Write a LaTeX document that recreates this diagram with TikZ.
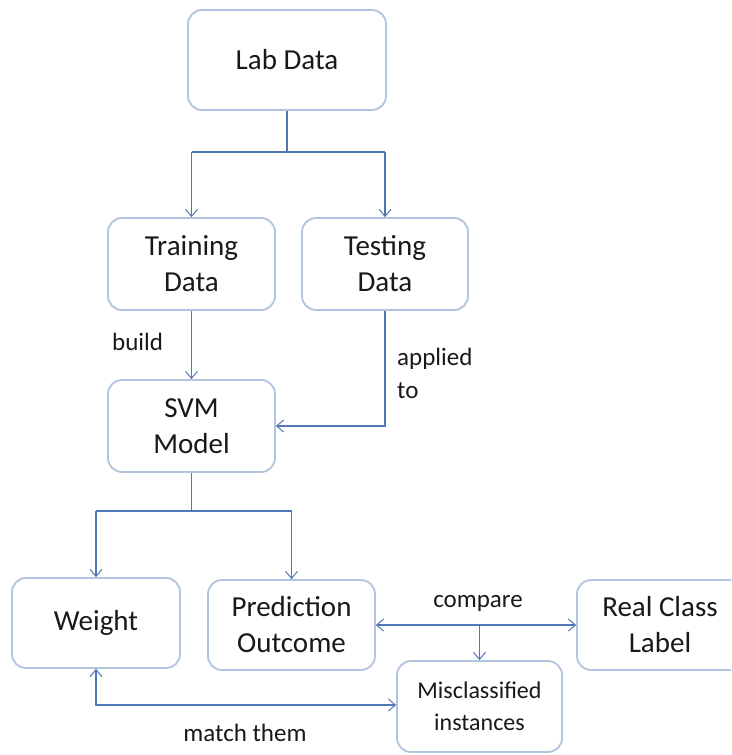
\documentclass[tikz,border=0pt]{standalone}
\usepackage{fontspec}
\setmainfont{Carlito}
\usetikzlibrary{arrows.meta}
\definecolor{boxline}{RGB}{178,196,224}
\definecolor{arrline}{RGB}{79,120,180}
\definecolor{txt}{RGB}{25,25,25}
\begin{document}
\begin{tikzpicture}[x=1pt,y=-1pt,
  box/.style={draw=boxline, line width=1.8pt, rounded corners=14pt, fill=white, align=center,
    text=txt, font=\fontsize{29}{36}\selectfont, inner sep=0pt},
  ln/.style={draw=arrline, line width=1.1pt},
  arr/.style={ln, -{Straight Barb[length=7pt,width=12pt,line width=1pt]}},
  darr/.style={ln, {Straight Barb[length=7pt,width=12pt,line width=1pt]}-{Straight Barb[length=7pt,width=12pt,line width=1pt]}},
  lbl/.style={text=txt, font=\fontsize{25}{33}\selectfont, inner sep=0pt}]
\useasboundingbox (0,0) rectangle (731,755);
\clip (0,0) rectangle (731,755);
\node[box, minimum width=198pt, minimum height=100pt] (lab) at (287,60) {Lab Data};
\node[box, minimum width=167pt, minimum height=92pt] (train) at (191.5,264) {Training\\Data};
\node[box, minimum width=166pt, minimum height=92pt] (test) at (385,264) {Testing\\Data};
\node[box, minimum width=167pt, minimum height=92pt] (svm) at (191.5,426) {SVM\\Model};
\node[box, minimum width=168pt, minimum height=90pt] (weight) at (96,623) {Weight};
\node[box, minimum width=167pt, minimum height=90pt] (pred) at (291.5,625) {Prediction\\Outcome};
\node[box, minimum width=166pt, minimum height=90pt] (real) at (660,625) {Real Class\\Label};
\node[box, minimum width=165pt, minimum height=91pt, font=\fontsize{24}{32}\selectfont] (mis) at (479.5,706.5) {Misclassified\\instances};

\coordinate (split1) at (287,152);
\draw[ln] (lab.south) -- (split1);
\draw[ln] (train.north |- split1) -- (test.north |- split1);
\draw[arr] (train.north |- split1) -- (train.north);
\draw[arr] (test.north |- split1) -- (test.north);
\draw[arr] (train.south) -- (svm.north);
\draw[arr] (test.south) |- (svm.east);
\coordinate (split2) at (191.5,511);
\draw[ln] (svm.south) -- (split2);
\draw[ln] (weight.north |- split2) -- (pred.north |- split2);
\draw[arr] (weight.north |- split2) -- (weight.north);
\draw[arr] (pred.north |- split2) -- (pred.north);
\draw[darr] (pred.east) -- (real.west);
\coordinate (cmp) at (479.5,625);
\draw[arr] (cmp) -- (mis.north);
\draw[darr] (weight.south) |- ([yshift=1.5pt]mis.west);

\node[lbl, anchor=west] (build) at (112,342) {build};
\node[lbl, anchor=west, align=left] (applied) at (397,373) {applied\\to};
\node[lbl] (compare) at (478,603) {compare};
\node[lbl] (match) at (245,733) {match them};
\end{tikzpicture}
\end{document}
